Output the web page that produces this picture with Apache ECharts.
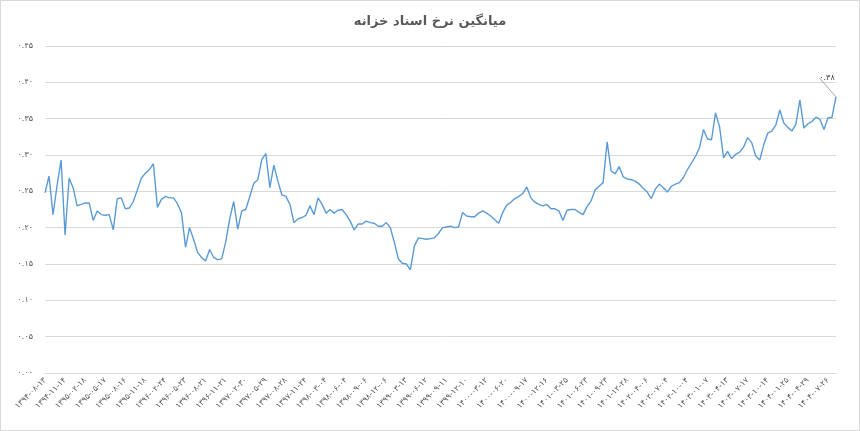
<!DOCTYPE html>
<html>
<head>
<meta charset="utf-8">
<script src="https://cdn.jsdelivr.net/npm/echarts@6/dist/echarts.min.js"></script>
<style>
  html, body { margin: 0; padding: 0; background: #fff; }
  #main { width: 860px; height: 431px; box-sizing: border-box; border: 1px solid #d9d9d9; }
</style>
</head>
<body>
<div id="main"></div>
<script>
// tick labels on the date axis (one every 5 points)
var tickDates = [
  '1394-08-13', '1394-11-14', '1395-02-18', '1395-05-17', '1395-08-16',
  '1395-11-18', '1396-02-24', '1396-05-23', '1396-08-21', '1396-11-21',
  '1397-02-30', '1397-05-29', '1397-08-28', '1397-11-24', '1398-03-04',
  '1398-06-04', '1398-09-06', '1398-12-06', '1399-03-13', '1399-06-12',
  '1399-09-11', '1399-12-10', '1400-03-12', '1400-06-20', '1400-09-17',
  '1400-12-16', '1401-03-25', '1401-06-23', '1401-09-23', '1401-12-28',
  '1402-04-06', '1402-07-04', '1402-10-04', '1403-01-07', '1403-04-13',
  '1403-07-17', '1403-10-14', '1404-01-25', '1404-04-29', '1404-07-26'
];
var pointsPerTick = 5;

// average treasury bond rate
var rates = [
  0.248, 0.271, 0.218, 0.258, 0.293, 0.190, 0.268, 0.255, 0.230, 0.232,
  0.234, 0.234, 0.210, 0.223, 0.218, 0.217, 0.218, 0.197, 0.240, 0.241,
  0.226, 0.227, 0.236, 0.252, 0.268, 0.275, 0.280, 0.288, 0.228, 0.239,
  0.243, 0.241, 0.241, 0.233, 0.220, 0.173, 0.200, 0.184, 0.166, 0.159,
  0.154, 0.170, 0.159, 0.156, 0.157, 0.180, 0.212, 0.236, 0.198, 0.223,
  0.225, 0.243, 0.261, 0.266, 0.294, 0.302, 0.255, 0.286, 0.264, 0.245,
  0.243, 0.232, 0.207, 0.212, 0.214, 0.217, 0.230, 0.218, 0.241, 0.232,
  0.220, 0.225, 0.220, 0.224, 0.225, 0.218, 0.209, 0.197, 0.205, 0.205,
  0.209, 0.207, 0.206, 0.202, 0.202, 0.207, 0.200, 0.180, 0.157, 0.151,
  0.150, 0.142, 0.175, 0.186, 0.185, 0.184, 0.185, 0.186, 0.192, 0.200,
  0.201, 0.202, 0.200, 0.201, 0.221, 0.216, 0.215, 0.215, 0.220, 0.223,
  0.220, 0.216, 0.211, 0.206, 0.221, 0.231, 0.235, 0.240, 0.243, 0.247,
  0.256, 0.241, 0.235, 0.232, 0.230, 0.232, 0.226, 0.226, 0.223, 0.210,
  0.224, 0.225, 0.225, 0.221, 0.218, 0.229, 0.237, 0.252, 0.257, 0.262,
  0.318, 0.278, 0.274, 0.284, 0.270, 0.267, 0.266, 0.264, 0.260, 0.254,
  0.249, 0.240, 0.253, 0.260, 0.255, 0.249, 0.257, 0.260, 0.262, 0.269,
  0.280, 0.289, 0.298, 0.310, 0.335, 0.322, 0.321, 0.358, 0.339, 0.296,
  0.305, 0.295, 0.301, 0.304, 0.311, 0.324, 0.317, 0.299, 0.293, 0.314,
  0.330, 0.333, 0.341, 0.362, 0.344, 0.338, 0.333, 0.342, 0.376, 0.337,
  0.343, 0.346, 0.352, 0.349, 0.335, 0.351, 0.352, 0.380
];

var faDigits = '۰۱۲۳۴۵۶۷۸۹';
function toFa(s) {
  return String(s).replace(/[0-9]/g, function (d) { return faDigits[+d]; });
}

var categories = rates.map(function (v, i) {
  var t = i / pointsPerTick;
  return (i % pointsPerTick === 0 && tickDates[t]) ? toFa(tickDates[t]) : '';
});

var seriesData = rates.map(function (v, i) {
  if (i === rates.length - 1) {
    return { value: v, label: { show: true } };
  }
  return v;
});

var chart = echarts.init(document.getElementById('main'));
var fontFam = '"DejaVu Sans", sans-serif';

chart.setOption({
  animation: false,
  textStyle: { fontFamily: fontFam },
  title: {
    text: 'میانگین نرخ اسناد خزانه',
    left: 'center',
    top: 9,
    textStyle: { fontFamily: fontFam, fontSize: 13, fontWeight: 'bold', color: '#595959' }
  },
  grid: { left: 44, right: 23, top: 45, bottom: 57 },
  xAxis: {
    type: 'category',
    data: categories,
    boundaryGap: false,
    axisTick: { show: false },
    axisLine: { lineStyle: { color: '#d9d9d9' } },
    axisLabel: {
      interval: 0,
      rotate: 45,
      fontSize: 8,
      color: '#595959',
      margin: 6,
      fontFamily: fontFam
    }
  },
  yAxis: {
    type: 'value',
    min: 0,
    max: 0.45,
    interval: 0.05,
    axisLine: { show: false },
    axisTick: { show: false },
    splitLine: { lineStyle: { color: '#d9d9d9' } },
    axisLabel: {
      fontSize: 8,
      color: '#595959',
      margin: 12,
      fontFamily: fontFam,
      formatter: function (v) { return toFa(v.toFixed(2)); }
    }
  },
  series: [{
    type: 'line',
    data: seriesData,
    showSymbol: true,
    showAllSymbol: true,
    symbol: 'circle',
    symbolSize: 0,
    lineStyle: { color: '#5b9bd5', width: 1.4 },
    itemStyle: { color: '#5b9bd5' },
    label: {
      show: false,
      position: 'top',
      fontSize: 8,
      color: '#404040',
      fontFamily: fontFam,
      formatter: function (p) { return toFa(p.value.toFixed(2)); }
    },
    labelLine: { show: true, lineStyle: { color: '#a6a6a6', width: 1 } },
    labelLayout: function (p) {
      return { dx: -9, dy: -10 };
    }
  }]
});
</script>
</body>
</html>
